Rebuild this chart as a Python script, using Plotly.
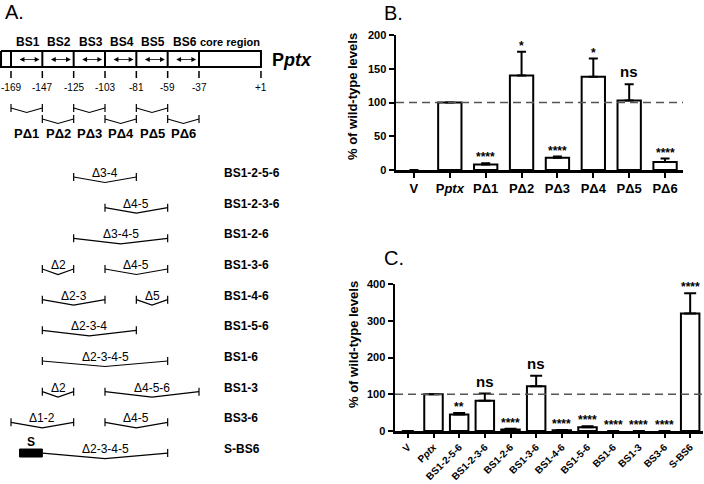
import plotly.graph_objects as go

W, H = 704, 484
FONT = "Liberation Sans, Arial, sans-serif"

# ---------------- Panel A data ----------------
site_bp = [-169, -147, -125, -103, -81, -59, -37, 1]
site_labels = ["-169", "-147", "-125", "-103", "-81", "-59", "-37", "+1"]
bs_names = ["BS1", "BS2", "BS3", "BS4", "BS5", "BS6"]
p_delta_names = ["PΔ1", "PΔ2", "PΔ3", "PΔ4", "PΔ5", "PΔ6"]
constructs = ["BS1-2-5-6", "BS1-2-3-6", "BS1-2-6", "BS1-3-6", "BS1-4-6",
              "BS1-5-6", "BS1-6", "BS1-3", "BS3-6", "S-BS6"]
# deleted binding-site ranges (first BS, last BS) for each construct
construct_deletions = [[(3, 4)], [(4, 5)], [(3, 5)], [(2, 2), (4, 5)], [(2, 3), (5, 5)],
                       [(2, 4)], [(2, 5)], [(2, 2), (4, 6)], [(1, 2), (4, 5)], [(2, 5)]]
s_box_bp = [-163, -147]

# ---------------- Panel B data ----------------
b_cats = ["V", "P<i>ptx</i>", "PΔ1", "PΔ2", "PΔ3", "PΔ4", "PΔ5", "PΔ6"]
b_values = [0, 100, 8, 140, 18, 138, 103, 12]
b_err_top = [None, None, 10, 175, 20, 165, 127, 17]
b_sig = ["", "", "****", "*", "****", "*", "ns", "****"]

# ---------------- Panel C data ----------------
c_cats = ["V", "P<i>ptx</i>", "BS1-2-5-6", "BS1-2-3-6", "BS1-2-6", "BS1-3-6",
          "BS1-4-6", "BS1-5-6", "BS1-6", "BS1-3", "BS3-6", "S-BS6"]
c_values = [0, 100, 45, 82, 4, 122, 2, 10, 0, 0, 0, 320]
c_err_top = [None, None, 49, 102, 6, 150, 3, 13, None, None, None, 375]
c_sig = ["", "", "**", "ns", "****", "ns", "****", "****", "****", "****", "****", "****"]

# ---------------- layout helpers ----------------
def px(x):
    return x / W

def py(y):
    return 1 - y / H

PX_PER_BP = (199 - 11) / 132.0
X_LEFT_BP = -169 - 11 / PX_PER_BP
X_RIGHT_BP = -169 + (320 - 11) / PX_PER_BP
CORE_STRETCH = 1.145            # core region drawn not to scale
site_draw = site_bp[:-1] + [site_bp[-2] + (site_bp[-1] - site_bp[-2]) * CORE_STRETCH]
BOX_LEFT = site_bp[0] - 7
BOX_TOP, BOX_BOT = 51, 67
ROW0, ROW_STEP = 177, 30.67

fig = go.Figure()
annots = []

def ann(**kw):
    kw.setdefault("showarrow", False)
    kw.setdefault("xanchor", "center")
    kw.setdefault("yanchor", "middle")
    annots.append(kw)

def fnt(size, bold=False):
    d = dict(family=FONT, size=size, color="black")
    if bold:
        d["weight"] = "bold"
    return d

def vshape(xs, ys, x0, x1, y, dip, lt=True, rt=True, th=4):
    xs += [x0, (x0 + x1) / 2, x1, None]
    ys += [y, y + dip, y, None]
    if lt:
        xs += [x0, x0, None]; ys += [y - th, y + th, None]
    if rt:
        xs += [x1, x1, None]; ys += [y - th, y + th, None]

# box + separators
bx = [BOX_LEFT, site_draw[-1], site_draw[-1], BOX_LEFT, BOX_LEFT, None]
by = [BOX_TOP, BOX_TOP, BOX_BOT, BOX_BOT, BOX_TOP, None]
for s in site_draw[:-1]:
    bx += [s, s, None]; by += [BOX_TOP, BOX_BOT, None]
fig.add_trace(go.Scatter(x=bx, y=by, mode="lines", line=dict(color="black", width=2),
                         xaxis="x", yaxis="y", hoverinfo="skip", showlegend=False))
# ticks below box
tx, ty = [], []
for s in site_draw:
    tx += [s, s, None]; ty += [71, 78, None]
fig.add_trace(go.Scatter(x=tx, y=ty, mode="lines", line=dict(color="black", width=1.5),
                         xaxis="x", yaxis="y", hoverinfo="skip", showlegend=False))
for s, lab in zip(site_draw, site_labels):
    ann(x=s, y=87, xref="x", yref="y", text=lab, font=fnt(10))
# BS labels and arrows
for i, name in enumerate(bs_names):
    x0, x1 = site_bp[i], site_bp[i + 1]
    ann(x=(x0 + x1) / 2 + 1, y=42, xref="x", yref="y", text=name, font=fnt(12, True))
    annots.append(dict(x=x1 - 2, y=59.5, ax=x0 + 5, ay=59.5, xref="x", yref="y", axref="x", ayref="y",
                       text="", showarrow=True, arrowside="end+start", arrowhead=2, arrowsize=1.2,
                       arrowwidth=0.8, arrowcolor="black", standoff=0, startstandoff=0))
ann(x=(site_draw[-2] + site_draw[-1]) / 2, y=42, xref="x", yref="y", text="core region", font=fnt(11, True))
ann(x=px(270), y=py(60), xref="paper", yref="paper", xanchor="left", text="P<i>ptx</i>", font=fnt(18, True))

# P-delta brackets
vx, vy = [], []
for i, name in enumerate(p_delta_names):
    x0, x1 = site_bp[i], site_bp[i + 1]
    yl = 108 if i % 2 == 0 else 119
    vshape(vx, vy, x0, x1, yl, 4.5)
    ann(x=(x0 + x1) / 2, y=133, xref="x", yref="y", text=name, font=fnt(13, True))
# construct rows
for r, (cname, dels) in enumerate(zip(constructs, construct_deletions)):
    yr = ROW0 + r * ROW_STEP
    has_s = cname.startswith("S-")
    for (a, b) in dels:
        x0, x1 = site_bp[a - 1], site_bp[b]
        vshape(vx, vy, x0, x1, yr, 5.5, lt=not has_s)
        ann(x=(x0 + x1) / 2, y=yr - 4, xref="x", yref="y",
            text="Δ" + "-".join(str(k) for k in range(a, b + 1)), font=fnt(12))
    ann(x=px(222), y=yr - 4, xref="paper", yref="y", xanchor="left", text=cname, font=fnt(12, True))
    if has_s:
        fig.add_trace(go.Scatter(x=[s_box_bp[0], s_box_bp[1], s_box_bp[1], s_box_bp[0], s_box_bp[0]],
                                 y=[yr - 4, yr - 4, yr + 4, yr + 4, yr - 4], mode="lines", fill="toself",
                                 fillcolor="black", line=dict(color="black", width=1),
                                 xaxis="x", yaxis="y", hoverinfo="skip", showlegend=False))
        ann(x=sum(s_box_bp) / 2, y=yr - 11, xref="x", yref="y", text="S", font=fnt(12, True))
fig.add_trace(go.Scatter(x=vx, y=vy, mode="lines", line=dict(color="black", width=1.2),
                         xaxis="x", yaxis="y", hoverinfo="skip", showlegend=False))

# ---------------- bar panels ----------------
def bar_panel(xa, ya, cats, vals, tops, sigs, cap, bw):
    xs = list(range(len(cats)))
    err = [None if t is None else t - v for t, v in zip(tops, vals)]
    fig.add_trace(go.Scatter(x=[-0.5, len(cats) - 0.5], y=[100, 100], mode="lines",
                             line=dict(color="#555555", width=1.5, dash="8px,5px"),
                             xaxis=xa, yaxis=ya, hoverinfo="skip", showlegend=False, cliponaxis=False))
    fig.add_trace(go.Bar(x=xs, y=vals, width=bw,
                         marker=dict(color="white",
                                     line=dict(color="black", width=[2 if v > 0 else 0 for v in vals])),
                         error_y=dict(type="data", symmetric=False, array=err,
                                      arrayminus=[0] * len(vals), color="black", thickness=2, width=cap),
                         xaxis=xa, yaxis=ya, showlegend=False, cliponaxis=False))
    for i, (s, v, t) in enumerate(zip(sigs, vals, tops)):
        if not s:
            continue
        top = v if t is None else t
        if s == "ns":
            ann(x=i, y=top, xref=xa, yref=ya, yanchor="bottom", yshift=2, text=s, font=fnt(15, True))
        else:
            ann(x=i, y=top, xref=xa, yref=ya, yanchor="bottom", yshift=-3, text=s, font=fnt(12, True))

bar_panel("x2", "y2", b_cats, b_values, b_err_top, b_sig, 4.5, 0.65)
bar_panel("x3", "y3", c_cats, c_values, c_err_top, c_sig, 6, 0.72)

axis_common = dict(showline=True, linecolor="black", linewidth=2.5, ticks="outside", ticklen=5,
                   tickwidth=2, tickcolor="black", showgrid=False, zeroline=False, automargin=False)

fig.update_layout(
    width=W, height=H, margin=dict(l=0, r=0, t=0, b=0, autoexpand=False),
    paper_bgcolor="white", plot_bgcolor="white",
    xaxis=dict(domain=[0, px(320)], range=[X_LEFT_BP, X_RIGHT_BP], visible=False, anchor="y", automargin=False),
    yaxis=dict(domain=[0, 1], range=[H, 0], visible=False, anchor="x", automargin=False),
    xaxis2=dict(domain=[px(396), px(683)], range=[-0.5, 7.5], anchor="y2",
                tickvals=list(range(len(b_cats))), ticktext=b_cats, tickfont=fnt(13, True), **axis_common),
    yaxis2=dict(domain=[py(170), py(35)], range=[0, 200], anchor="x2", tickvals=[0, 50, 100, 150, 200],
                tickfont=fnt(11, True), **axis_common),
    xaxis3=dict(domain=[px(395), px(703)], range=[-0.5, 11.5], anchor="y3", tickangle=-45,
                tickvals=list(range(len(c_cats))), ticktext=c_cats, tickfont=fnt(10, True),
                **{**axis_common, "ticklen": 4}),
    yaxis3=dict(domain=[py(431), py(284)], range=[0, 400], anchor="x3", tickvals=[0, 100, 200, 300, 400],
                tickfont=fnt(11, True), **axis_common),
)

for txt, x, y in [("A.", 3, 12), ("B.", 382, 13), ("C.", 382, 258)]:
    ann(x=px(x), y=py(y), xref="paper", yref="paper", xanchor="left", text=txt, font=fnt(20))
for y in [97, 345]:
    ann(x=px(353), y=py(y), xref="paper", yref="paper", textangle=-90,
        text="% of wild-type levels", font=fnt(13, True))

fig.update_layout(annotations=annots)
fig.write_html("out.html", config={"displayModeBar": False, "staticPlot": True},
               post_script="document.body.style.margin='0';document.body.style.padding='0';")
